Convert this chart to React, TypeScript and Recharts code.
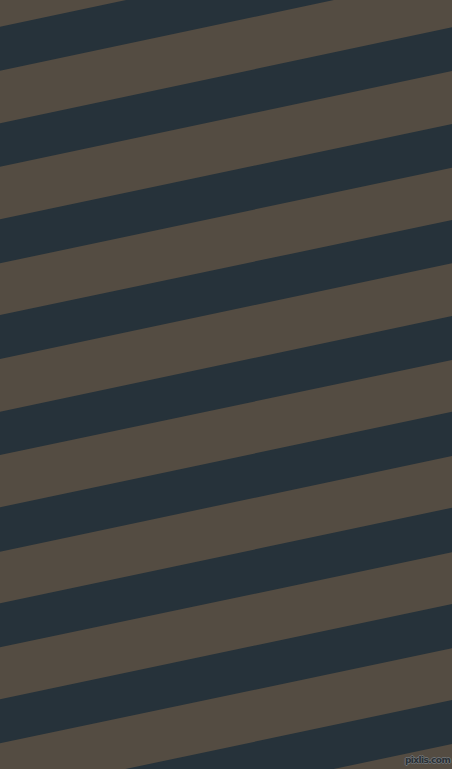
import { ComposedChart, Area, XAxis, YAxis } from "recharts"

// edge positions (px from top) of each dark stripe, read at x = 0 and x = 452
const edges = [0, 452]
const leftTop = [26.7, 123.3, 219.3, 315, 411.7, 507.3, 603.3, 699.3, 795.5]
const leftBottom = [70.7, 166.7, 263.3, 359, 455, 551.7, 647.3, 743.3, 839.5]
const rightTop = [-69, 27.3, 124, 220, 316, 411.7, 507.7, 604, 700]
const rightBottom = [-25, 71, 167.7, 263.3, 360, 456, 552.3, 648.3, 744]

const BROWN = "#544c42"
const DARK = "#26323a"

const rows = edges.map((x, i) => {
  const row: Record<string, number | number[]> = { x }
  leftTop.forEach((_, k) => {
    row[`s${k}`] = i === 0 ? [leftTop[k], leftBottom[k]] : [rightTop[k], rightBottom[k]]
  })
  return row
})

export default function App() {
  return (
    <div style={{ position: "absolute", left: 0, top: 0, width: 452, height: 769, background: BROWN }}>
      <ComposedChart width={452} height={769} data={rows} margin={{ top: 0, right: 0, left: 0, bottom: 0 }}>
        <XAxis dataKey="x" type="number" domain={[0, 452]} hide allowDataOverflow />
        <YAxis type="number" domain={[0, 769]} reversed hide allowDataOverflow />
        {leftTop.map((_, k) => (
          <Area
            key={k}
            dataKey={`s${k}`}
            type="linear"
            stroke="none"
            fill={DARK}
            fillOpacity={1}
            isAnimationActive={false}
            dot={false}
            activeDot={false}
          />
        ))}
      </ComposedChart>
      <div
        style={{
          position: "absolute",
          left: 405,
          top: 755,
          fontFamily: "DejaVu Sans",
          fontSize: 9,
          fontWeight: "bold",
          letterSpacing: -0.6,
          lineHeight: "10px",
          color: "#2b3136",
          textShadow: "1px 0 0 #6e7275, -1px 0 0 #6e7275, 0 1px 0 #6e7275, 0 -1px 0 #6e7275",
        }}
      >
        pixlis.com
      </div>
    </div>
  )
}
